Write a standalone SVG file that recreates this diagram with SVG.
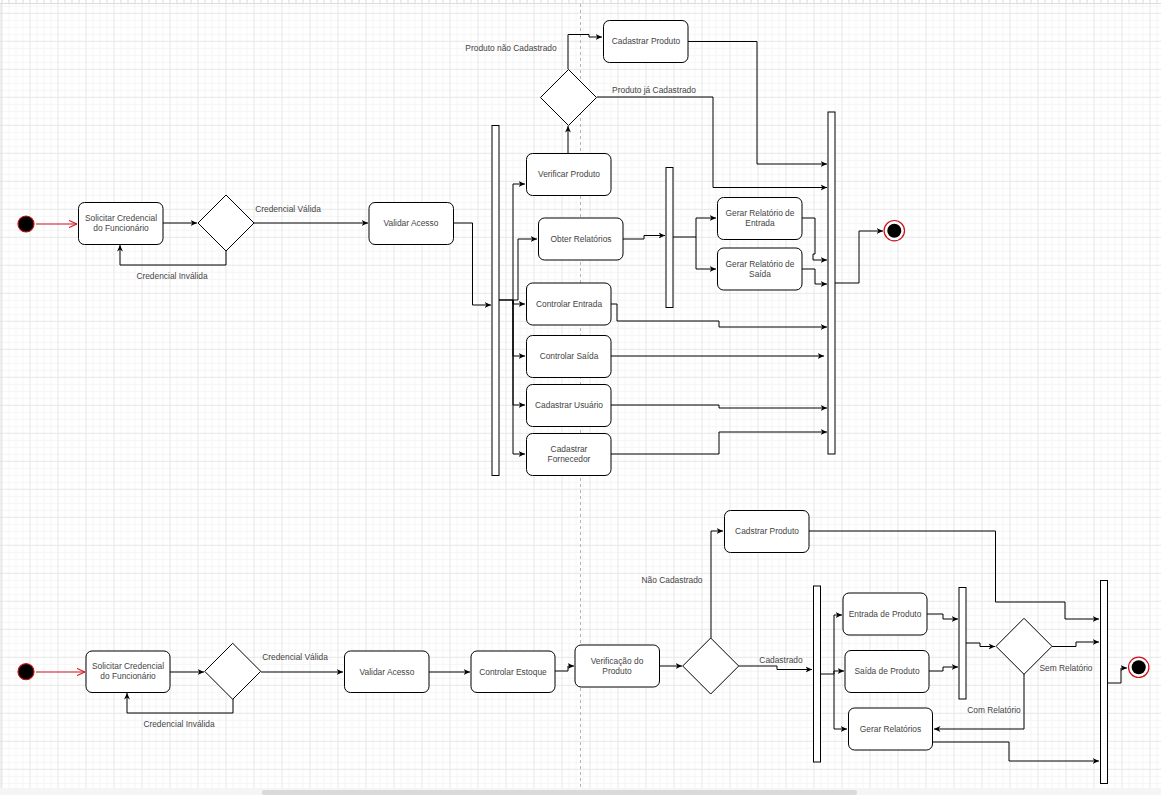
<svg xmlns="http://www.w3.org/2000/svg" width="1161" height="795" viewBox="0 0 1161 795">
<defs>
<pattern id="grid" patternUnits="userSpaceOnUse" x="29.5" y="12.8" width="28" height="28">
<path d="M7.5 0V28M14.5 0V28M21.5 0V28M0 7.5H28M0 14.5H28M0 21.5H28" stroke="#f5f5f5" stroke-width="1" fill="none"/>
<path d="M0.5 0V28M0 0.5H28" stroke="#e7e7e7" stroke-width="1" fill="none"/>
</pattern>
<pattern id="ticks" patternUnits="userSpaceOnUse" x="1.5" y="0" width="7" height="4">
<path d="M0.5 0V3.5" stroke="#d9d9d9" stroke-width="1"/>
</pattern>
<marker id="arr" viewBox="0 0 10 10" refX="10" refY="5" markerWidth="6.5" markerHeight="6.5" markerUnits="userSpaceOnUse" orient="auto">
<path d="M0,0.5 L10,5 L0,9.5 L3,5 Z" fill="#000"/>
</marker>
<marker id="open" viewBox="0 0 10 10" refX="10" refY="5" markerWidth="8" markerHeight="8" markerUnits="userSpaceOnUse" orient="auto">
<path d="M0,0.5 L10,5 L0,9.5" fill="none" stroke="#d0111b" stroke-width="1.3"/>
</marker>
</defs>
<style>
.box{fill:#fff;stroke:#000;stroke-width:1}
.bar{fill:#fff;stroke:#000;stroke-width:1}
.dia{fill:#fff;stroke:#000;stroke-width:1}
.t{font-family:"Liberation Sans",Arial,sans-serif;font-size:8.4px;fill:#444;text-anchor:middle}
.e{fill:none;stroke:#000;stroke-width:1;marker-end:url(#arr)}
.r{fill:none;stroke:#d0111b;stroke-width:1;marker-end:url(#open)}
.start{fill:#000;stroke:#c0141c;stroke-width:1.2}
</style>
<rect x="0" y="0" width="1161" height="795" fill="#ffffff"/>
<rect x="0" y="4" width="1161" height="784" fill="url(#grid)"/>
<rect x="0" y="0" width="1161" height="3.5" fill="url(#ticks)"/>
<line x1="0" y1="3.5" x2="1161" y2="3.5" stroke="#dcdcdc" stroke-width="1"/>
<line x1="1" y1="4" x2="1" y2="788" stroke="#e0e0e0" stroke-width="1"/>
<rect x="0" y="788" width="1161" height="7" fill="#f5f5f5"/>
<rect x="262" y="790" width="595" height="5" rx="2" fill="#dadada"/>
<line x1="580.5" y1="4" x2="580.5" y2="788" stroke="#b4b4b4" stroke-width="1" stroke-dasharray="3,3"/>

<g id="connectors">
<path class="r" d="M36,224 H77"/>
<path class="e" d="M163,223 H197"/>
<path class="e" d="M254,223 H368"/>
<path class="e" d="M226,251 V265 H120 V245"/>
<path class="e" d="M453,223 H472.5 V305 H491"/>
<path class="e" d="M499,300 H518 V239 H537"/>
<path class="e" d="M499,300 H513 V184 H525"/>
<path class="e" d="M513,300 V304 H525"/>
<path class="e" d="M513,300 V356 H525"/>
<path class="e" d="M513,300 V405 H525"/>
<path class="e" d="M513,300 V454 H525"/>
<path class="e" d="M568,153 V126"/>
<path class="e" d="M568,69 V34.5 H589 V37 H602"/>
<path class="e" d="M688,41.5 H757 V164 H827"/>
<path class="e" d="M597,97 H713 V187.5 H827"/>
<path class="e" d="M623,239 H644 V235.5 H665"/>
<path class="e" d="M673,237 H696 V218 H716"/>
<path class="e" d="M696,237 V269 H716"/>
<path class="e" d="M802,218 H815 V254 H813 V260 H827"/>
<path class="e" d="M802,269 H815 V284 H827"/>
<path class="e" d="M835,283 H859 V231 H883"/>
<path class="e" d="M611,304 H617 V321 H719 V327 H827"/>
<path class="e" d="M611,356 H824"/>
<path class="e" d="M611,405 H719 V408 H827"/>
<path class="e" d="M611,454 H719 V432 H827"/>

<path class="r" d="M36,672 H85"/>
<path class="e" d="M170,672 H204"/>
<path class="e" d="M261,672 H343"/>
<path class="e" d="M233,699 V713 H127 V693"/>
<path class="e" d="M429,672 H470"/>
<path class="e" d="M555,671 H568 V666 H574"/>
<path class="e" d="M660,666 H682"/>
<path class="e" d="M711,638 V531 H723"/>
<path class="e" d="M739,666 H777 V669.5 H812"/>
<path class="e" d="M821,674 H834 V615 H842"/>
<path class="e" d="M834,674 V671 H844"/>
<path class="e" d="M834,674 V729 H847"/>
<path class="e" d="M927,614 H943 V619 H958"/>
<path class="e" d="M929,671 H943 V667 H958"/>
<path class="e" d="M966,643 H980 V646.5 H995"/>
<path class="e" d="M1052,646.5 H1076 V642 H1099"/>
<path class="e" d="M1024,674 V729 H934"/>
<path class="e" d="M933,742 H1009 V761 H1099"/>
<path class="e" d="M809,531 H995.5 V602 H1065 V619 H1099"/>
<path class="e" d="M1108,683 H1121 V668 H1127"/>
</g>

<g id="labels">
<text class="t" x="288" y="212">Credencial Válida</text>
<text class="t" x="172" y="279">Credencial Inválida</text>
<text class="t" x="511" y="51">Produto não Cadastrado</text>
<text class="t" x="654" y="93">Produto já Cadastrado</text>
<text class="t" x="295" y="660">Credencial Válida</text>
<text class="t" x="179" y="727">Credencial Inválida</text>
<text class="t" x="672" y="583">Não Cadastrado</text>
<text class="t" x="781" y="663">Cadastrado</text>
<text class="t" x="1066" y="671">Sem Relatório</text>
<text class="t" x="994" y="713">Com Relatório</text>
</g>

<g id="start1"><circle class="start" cx="26" cy="224" r="8"/></g>
<g id="solicitar1"><rect class="box" x="78.5" y="202.5" width="84.5" height="42" rx="6"/><text class="t" x="121" y="221">Solicitar Credencial</text><text class="t" x="121" y="231">do Funcionário</text></g>
<g id="dec1"><path class="dia" d="M226,195 L254,223 L226,251 L198,223 Z"/></g>
<g id="validar1"><rect class="box" x="369" y="202.5" width="84.5" height="42" rx="6"/><text class="t" x="411" y="226">Validar Acesso</text></g>
<g id="fork1"><rect class="bar" x="492" y="125.5" width="7" height="350"/></g>
<g id="verificar"><rect class="box" x="526.5" y="153.5" width="84.5" height="42" rx="6"/><text class="t" x="569" y="177">Verificar Produto</text></g>
<g id="obter"><rect class="box" x="538.5" y="218" width="84.5" height="42" rx="6"/><text class="t" x="581" y="242">Obter Relatórios</text></g>
<g id="centrada"><rect class="box" x="526.5" y="283" width="84.5" height="42" rx="6"/><text class="t" x="569" y="307">Controlar Entrada</text></g>
<g id="csaida"><rect class="box" x="526.5" y="335.5" width="84.5" height="42" rx="6"/><text class="t" x="569" y="359">Controlar Saída</text></g>
<g id="cusuario"><rect class="box" x="526.5" y="384.5" width="84.5" height="42" rx="6"/><text class="t" x="569" y="408">Cadastrar Usuário</text></g>
<g id="cfornecedor"><rect class="box" x="526.5" y="433.5" width="84.5" height="42" rx="6"/><text class="t" x="569" y="452">Cadastrar</text><text class="t" x="569" y="462">Fornecedor</text></g>
<g id="dec2"><path class="dia" d="M568.5,69.5 L596.5,97.5 L568.5,125.5 L540.5,97.5 Z"/></g>
<g id="cproduto"><rect class="box" x="603.5" y="20.5" width="84.5" height="42" rx="6"/><text class="t" x="646" y="44">Cadastrar Produto</text></g>
<g id="fork3"><rect class="bar" x="666" y="167.5" width="7" height="140"/></g>
<g id="grentrada"><rect class="box" x="717.5" y="197.5" width="84.5" height="42" rx="6"/><text class="t" x="760" y="216">Gerar Relatório de</text><text class="t" x="760" y="226">Entrada</text></g>
<g id="grsaida"><rect class="box" x="717.5" y="248" width="84.5" height="42" rx="6"/><text class="t" x="760" y="267">Gerar Relatório de</text><text class="t" x="760" y="277">Saída</text></g>
<g id="join2"><rect class="bar" x="828" y="112" width="7" height="342"/></g>
<g id="end1"><circle cx="894.3" cy="230.7" r="10.2" fill="#fff" stroke="#d0111b" stroke-width="1.2"/><circle cx="894.3" cy="230.7" r="7" fill="#000"/></g>

<g id="start2"><circle class="start" cx="26" cy="671.7" r="8"/></g>
<g id="solicitar2"><rect class="box" x="86" y="651" width="84" height="41.5" rx="6"/><text class="t" x="128" y="669">Solicitar Credencial</text><text class="t" x="128" y="679">do Funcionário</text></g>
<g id="dec3"><path class="dia" d="M232.7,643.3 L260.7,671.3 L232.7,699.3 L204.7,671.3 Z"/></g>
<g id="validar2"><rect class="box" x="344.5" y="651" width="84.5" height="41.5" rx="6"/><text class="t" x="387" y="675">Validar Acesso</text></g>
<g id="estoque"><rect class="box" x="471" y="651" width="84" height="41.5" rx="6"/><text class="t" x="513" y="675">Controlar Estoque</text></g>
<g id="verificacao"><rect class="box" x="575" y="645" width="84.5" height="42" rx="6"/><text class="t" x="617" y="664">Verificação do</text><text class="t" x="617" y="674">Produto</text></g>
<g id="dec4"><path class="dia" d="M710.7,638 L738.7,666 L710.7,694 L682.7,666 Z"/></g>
<g id="cadstrar"><rect class="box" x="724.5" y="510.5" width="84.5" height="42" rx="6"/><text class="t" x="767" y="534">Cadstrar Produto</text></g>
<g id="fork4"><rect class="bar" x="813.5" y="586" width="7" height="176"/></g>
<g id="entrada"><rect class="box" x="843" y="593" width="84" height="42" rx="6"/><text class="t" x="885" y="617">Entrada de Produto</text></g>
<g id="saida"><rect class="box" x="845" y="650.5" width="84" height="42" rx="6"/><text class="t" x="887" y="674">Saída de Produto</text></g>
<g id="gerar"><rect class="box" x="848.5" y="708" width="84" height="42" rx="6"/><text class="t" x="890.5" y="732">Gerar Relatórios</text></g>
<g id="join5"><rect class="bar" x="959" y="587.5" width="7" height="111.5"/></g>
<g id="dec5"><path class="dia" d="M1024,618.3 L1052,646.3 L1024,674.3 L996,646.3 Z"/></g>
<g id="join6"><rect class="bar" x="1100.5" y="580.5" width="7" height="203"/></g>
<g id="end2"><circle cx="1138.7" cy="667.3" r="10.2" fill="#fff" stroke="#d0111b" stroke-width="1.2"/><circle cx="1138.7" cy="667.3" r="7" fill="#000"/></g>
</svg>
